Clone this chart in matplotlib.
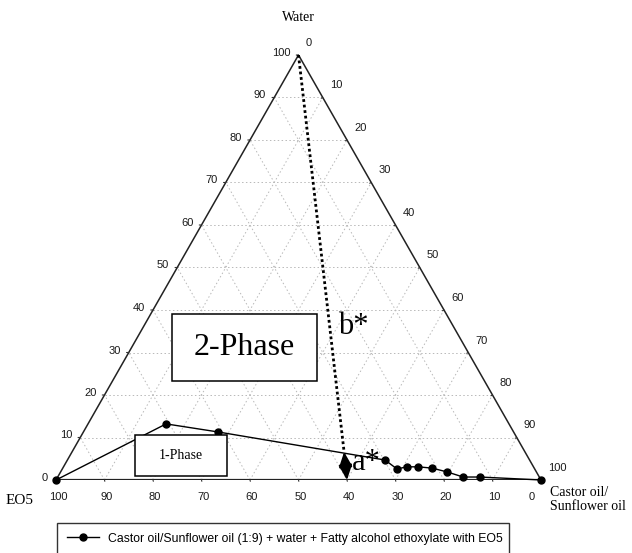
import numpy as np
import matplotlib.pyplot as plt
from matplotlib.patches import Rectangle

# phase boundary: water % and castor/sunflower oil %, EO5 is the rest
water = [0, 13.2, 11.3, 4.7, 2.6, 3.1, 3.1, 2.8, 1.9, 0.7, 0.7, 0]
castor = [0, 16.1, 27.8, 65.5, 69.0, 70.8, 73.1, 76.1, 79.7, 83.6, 87.1, 100]

ticks = [0, 10, 20, 30, 40, 50, 60, 70, 80, 90, 100]

# arrow end points (water, castor)
b_start = (100, 0)
b_end = (6.6, 56.1)
a_end = (0, 60)

seriesLabel = "Castor oil/Sunflower oil (1:9) + water + Fatty alcohol ethoxylate with EO5"

serif = 'Liberation Serif'
sans = 'Liberation Sans'


def tern(w, c):
    w = np.asarray(w, dtype=float)
    c = np.asarray(c, dtype=float)
    return c + w / 2, w


fig = plt.figure(figsize=(6.32, 5.53), dpi=100)
ax = fig.add_axes([56 / 632, 73 / 553, 485 / 632, 425 / 553])
ax.set_xlim(0, 100)
ax.set_ylim(0, 100)
ax.axis('off')

# grid
grid_kw = dict(color='#b8b8b8', lw=0.7, ls=(0, (1.5, 2.5)), zorder=1)
for k in ticks[1:-1]:
    # constant water
    x, y = tern([k, k], [0, 100 - k])
    ax.plot(x, y, **grid_kw)
    # constant castor
    x, y = tern([0, 100 - k], [k, k])
    ax.plot(x, y, **grid_kw)
    # constant EO5
    x, y = tern([0, 100 - k], [100 - k, 0])
    ax.plot(x, y, **grid_kw)

# triangle
x, y = tern([0, 100, 0], [0, 0, 100])
ax.plot(x, y, color='#222222', lw=1.1, zorder=2)
x, y = tern([0, 0], [0, 100])
ax.plot(x, y, color='#222222', lw=1.6, zorder=2)

lab_kw = dict(textcoords='offset pixels', fontsize=8, family=sans, color='#1a1a1a')

# tick marks and labels
for k in ticks:
    # water, left side
    x, y = tern(k, 0)
    ax.annotate('', xy=(x, y), xytext=(-5, 0), textcoords='offset pixels',
                arrowprops=dict(arrowstyle='-', lw=0.8, color='#333333'))
    ax.annotate(str(k), xy=(x, y), xytext=(-8, 2), ha='right', va='center', **lab_kw)
    # castor, right side
    x, y = tern(100 - k, k)
    ax.annotate('', xy=(x, y), xytext=(-4, -2), textcoords='offset pixels',
                arrowprops=dict(arrowstyle='-', lw=0.8, color='#333333'))
    ax.annotate(str(k), xy=(x, y), xytext=(7, 12), ha='left', va='center', **lab_kw)
    # EO5, bottom
    x, y = tern(0, 100 - k)
    ax.annotate('', xy=(x, y), xytext=(1, -4), textcoords='offset pixels',
                arrowprops=dict(arrowstyle='-', lw=0.8, color='#333333'))
    dx = -9 if k == 0 else 2
    ax.annotate(str(k), xy=(x, y), xytext=(dx, -17), ha='center', va='center', **lab_kw)

# axis titles
x, y = tern(100, 0)
ax.annotate('Water', xy=(x, y), xytext=(0, 37), textcoords='offset pixels',
            ha='center', va='center', fontsize=10, family=serif)
x, y = tern(0, 0)
ax.annotate('EO5', xy=(x, y), xytext=(-36, -20), textcoords='offset pixels',
            ha='center', va='center', fontsize=11, family=serif)
x, y = tern(0, 100)
ax.annotate('Castor oil/\nSunflower oil', xy=(x, y), xytext=(9, -19),
            textcoords='offset pixels', ha='left', va='center', fontsize=10,
            family=serif, linespacing=1.1)

# phase boundary
x, y = tern(water, castor)
line, = ax.plot(x, y, color='black', lw=1.0, marker='o', ms=5,
                mfc='black', mec='black', zorder=4, clip_on=False,
                label=seriesLabel)

# b* dotted line and a* double arrow
bx0, by0 = tern(*b_start)
bx1, by1 = tern(*b_end)
ax.plot([bx0, bx1], [by0, by1], color='black', lw=2.0, ls=(0, (1, 1)), zorder=3)
ax_x, ax_y = tern(*a_end)
ax.annotate('', xy=(ax_x, ax_y), xytext=(bx1, by1),
            arrowprops=dict(arrowstyle='<|-|>,head_length=0.9,head_width=0.4',
                            color='black', lw=1.5, shrinkA=0, shrinkB=0), zorder=5)

ax.text(61.2, 36.2, 'b*', fontsize=22, family=serif, ha='center', va='center')
ax.text(63.9, 4.2, 'a*', fontsize=22, family=serif, ha='center', va='center')

# phase boxes
ax.add_patch(Rectangle((23.9, 23.3), 29.9, 15.8, fc='white', ec='black', lw=1.1, zorder=5))
ax.text(38.9, 31.2, '2-Phase', fontsize=23, family=serif, ha='center', va='center', zorder=6)
ax.add_patch(Rectangle((16.3, 0.9), 19.0, 9.7, fc='white', ec='black', lw=1.1, zorder=5))
ax.text(25.8, 5.8, '1-Phase', fontsize=10, family=serif, ha='center', va='center', zorder=6)

leg = fig.legend(handles=[line], loc='upper left',
                 bbox_to_anchor=(57 / 632, 1 - 523 / 553 - 0.05, 452 / 632, 0.05),
                 mode='expand', frameon=True, fancybox=False,
                 prop={'family': sans, 'size': 8.8}, handlelength=2.6,
                 borderaxespad=0, borderpad=0.8, handletextpad=0.8)
leg.get_frame().set_edgecolor('black')
leg.get_frame().set_linewidth(1.0)

fig.savefig('out.png', dpi=100)
